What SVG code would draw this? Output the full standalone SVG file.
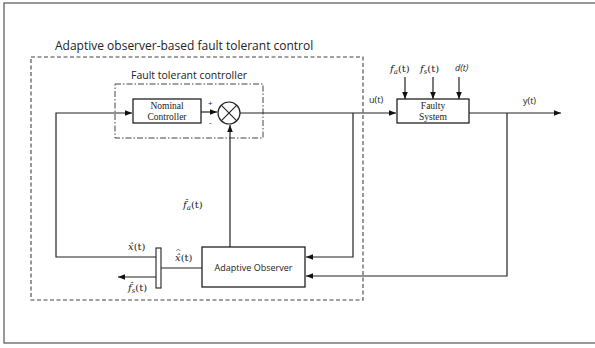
<svg xmlns="http://www.w3.org/2000/svg" width="595" height="348" viewBox="0 0 595 348">
<defs>
<marker id="ah" viewBox="0 0 10 10" refX="10" refY="5" markerWidth="7" markerHeight="7" markerUnits="userSpaceOnUse" orient="auto">
<path d="M0,1 L10,5 L0,9 z" fill="#111"/>
</marker>
<style>
.ln{stroke:#222;stroke-width:1.2;fill:none}
.box{fill:#fff;stroke:#222;stroke-width:1.3}
.sans{font-family:"Open Sans","DejaVu Sans",sans-serif;fill:#222}
.serif{font-family:"Liberation Serif","Times New Roman",serif;fill:#222}
.math{font-family:"DejaVu Serif","Liberation Serif",serif;font-style:italic;fill:#222;font-size:10px}
</style>
</defs>
<rect x="0" y="0" width="595" height="348" fill="#fff"/>
<rect x="4" y="3" width="592" height="340" fill="none" stroke="#555" stroke-width="1.2"/>

<g id="outer-box">
<rect x="31" y="57" width="332" height="243" fill="none" stroke="#444" stroke-width="1.1" stroke-dasharray="4,2.5"/>
<text class="sans" x="55" y="50" font-size="12">Adaptive observer-based fault tolerant control</text>
</g>
<g id="ftc-box">
<rect x="115" y="84" width="148" height="54" fill="none" stroke="#444" stroke-width="1" stroke-dasharray="6,2,1.5,2"/>
<text class="sans" x="131" y="79" font-size="10.5">Fault tolerant controller</text>
</g>

<g id="connectors">
<polyline class="ln" points="201,112 217,112" marker-end="url(#ah)"/>
<polyline class="ln" points="240,113 396,113" marker-end="url(#ah)"/>
<polyline class="ln" points="469,113 561,113" marker-end="url(#ah)"/>
<polyline class="ln" points="405,77 405,99" marker-end="url(#ah)"/>
<polyline class="ln" points="433,77 433,99" marker-end="url(#ah)"/>
<polyline class="ln" points="459,77 459,99" marker-end="url(#ah)"/>
<polyline class="ln" points="353,113 353,257 306,257" marker-end="url(#ah)"/>
<polyline class="ln" points="507,113 507,276 306,276" marker-end="url(#ah)"/>
<polyline class="ln" points="230,247 230,125" marker-end="url(#ah)"/>
<polyline class="ln" points="202,268 161,268"/>
<polyline class="ln" points="156,257 56,257 56,113 132,113" marker-end="url(#ah)"/>
<polyline class="ln" points="156,277 118,277" marker-end="url(#ah)"/>
</g>

<g id="nominal-controller">
<rect class="box" x="133" y="99" width="68" height="24"/>
<text class="serif" x="167" y="109" font-size="9.5" text-anchor="middle">Nominal</text>
<text class="serif" x="167" y="120" font-size="9.5" text-anchor="middle">Controller</text>
</g>
<g id="sum">
<circle cx="229" cy="113" r="11" fill="#fff" stroke="#222" stroke-width="1.2"/>
<path d="M221.2,105.2 L236.8,120.8 M236.8,105.2 L221.2,120.8" stroke="#222" stroke-width="1.1"/>
<text class="sans" x="208" y="106" font-size="8">+</text>
<text class="sans" x="209" y="125" font-size="8">-</text>
</g>
<g id="faulty-system">
<rect class="box" x="397" y="99" width="72" height="24"/>
<text class="serif" x="433" y="109" font-size="9.5" text-anchor="middle">Faulty</text>
<text class="serif" x="433" y="120" font-size="9.5" text-anchor="middle">System</text>
</g>
<g id="adaptive-observer">
<rect class="box" x="202" y="247" width="103" height="40"/>
<text class="sans" x="253.5" y="271" font-size="9" text-anchor="middle">Adaptive Observer</text>
</g>
<g id="demux">
<rect x="156" y="248" width="5" height="40" fill="#fff" stroke="#222" stroke-width="1.1"/>
</g>

<g id="labels">
<text class="sans" x="369" y="103" font-size="9">u(t)</text>
<text class="sans" x="523" y="104" font-size="9">y(t)</text>
<text class="math" x="390" y="72">f<tspan font-size="7" dy="2">a</tspan><tspan dy="-2" font-style="normal">(t)</tspan></text>
<text class="math" x="420" y="72">f<tspan font-size="7" dy="2">s</tspan><tspan dy="-2" font-style="normal">(t)</tspan></text>
<text class="sans" x="455" y="71" font-size="9" font-style="italic">d(t)</text>
<text class="math" x="183" y="208">f̂<tspan font-size="7" dy="2">a</tspan><tspan dy="-2" font-style="normal">(t)</tspan></text>
<text class="math" x="128" y="250">x̂<tspan font-style="normal">(t)</tspan></text>
<text class="math" x="175" y="261">x̂<tspan font-style="normal">(t)</tspan></text>
<path d="M176.3,251 L178.3,249 L180.3,251" fill="none" stroke="#222" stroke-width="0.6"/>
<text class="math" x="128" y="291">f̂<tspan font-size="7" dy="2">s</tspan><tspan dy="-2" font-style="normal">(t)</tspan></text>
</g>
</svg>
